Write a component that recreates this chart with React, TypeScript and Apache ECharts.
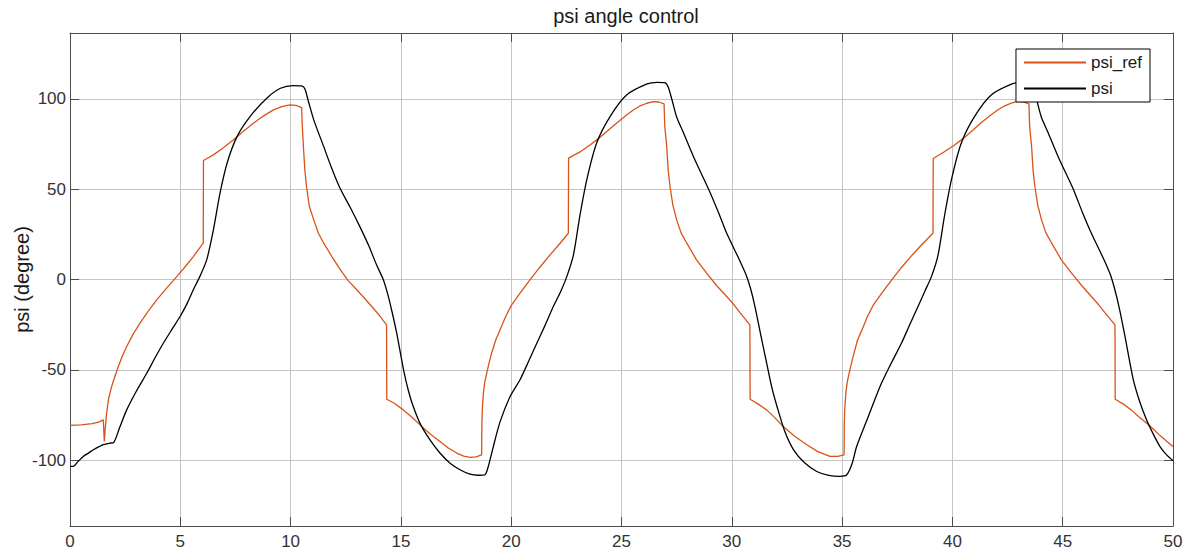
import React, { useEffect, useRef } from "react";
import * as echarts from "echarts";

const titleText = "psi angle control";
const yAxisName = "psi (degree)";
const seriesNames = ["psi_ref", "psi"];
const xMin = 0;
const xMax = 50;
const xStep = 5;
const yMin = -136.5;
const yMax = 136.5;

const psiRef: [number, number][] = [
  [0, -80.8], [0.5, -80.5], [1.0, -79.8], [1.3, -79], [1.51, -77.7], [1.555, -89.7],
  [1.6, -82], [1.66, -74], [1.75, -66], [1.89, -59.2], [2.0, -55], [2.19, -48.2],
  [2.37, -42.5], [2.57, -37.1], [2.85, -30.5], [3.17, -24.2], [3.55, -17.5], [3.93, -11.3],
  [4.4, -4.5], [4.84, 1.6], [5.2, 6.8], [5.59, 12.7], [6.04, 20.1],
  [6.05, 65.9], [6.5, 69], [6.95, 73], [7.4, 77.3], [7.85, 82], [8.31, 86.5], [8.76, 90.5],
  [9.22, 93.9], [9.6, 95.7], [9.97, 96.7], [10.25, 96.4], [10.5, 95.2],
  [10.53, 85], [10.58, 73.6], [10.65, 60], [10.72, 51.5], [10.85, 40.4], [11.05, 33],
  [11.26, 25.6], [11.5, 20.1], [11.87, 12.7], [12.26, 5.3], [12.6, -0.5], [13.0, -5.7],
  [13.38, -10.8], [13.75, -15.9], [14.05, -20.3], [14.35, -25.1],
  [14.36, -66.3], [14.7, -68.5], [15.11, -72.2], [15.5, -76.3], [15.87, -80.5], [16.3, -85.3],
  [16.77, -89.7], [17.15, -93.3], [17.53, -96.1], [17.85, -97.8], [18.13, -98.5],
  [18.4, -98.2], [18.66, -97.1],
  [18.67, -80], [18.69, -72], [18.74, -62.9], [18.8, -57], [18.89, -51.9], [19.0, -46],
  [19.11, -40.8], [19.3, -33.5], [19.49, -27.9], [19.75, -20.5], [20.02, -14], [20.4, -7.6],
  [20.85, -0.2], [21.3, 6.8], [21.76, 13.6], [22.2, 19.8], [22.59, 25.6],
  [22.6, 67.2], [23.1, 70.5], [23.57, 74.5], [23.95, 78], [24.33, 81.9], [24.8, 86.8],
  [25.23, 91.1], [25.55, 94], [25.84, 96.1], [26.15, 97.6], [26.44, 98.5], [26.7, 98.3],
  [26.93, 97.2],
  [26.96, 85], [27.05, 73.6], [27.12, 60], [27.2, 51.5], [27.33, 41], [27.5, 33],
  [27.7, 25.8], [27.96, 20.1], [28.4, 10.9], [28.86, 3.5], [29.3, -3.2], [29.77, -9.4],
  [30.1, -14], [30.39, -18.6], [30.82, -25.1],
  [30.83, -66.3], [31.2, -69], [31.58, -72.2], [31.95, -76.5], [32.33, -81.4], [32.85, -86.8],
  [33.4, -91.5], [33.9, -95.3], [34.45, -98], [34.8, -98], [35.09, -97.1],
  [35.1, -80], [35.12, -72], [35.17, -62.9], [35.23, -57], [35.32, -51.9], [35.43, -46],
  [35.54, -40.8], [35.7, -33.5], [35.9, -27.9], [36.15, -20.5], [36.42, -14], [36.8, -7.6],
  [37.25, -0.2], [37.7, 6.8], [38.18, 13.6], [38.65, 19.8], [39.12, 25.6],
  [39.13, 67], [39.6, 70.5], [40.1, 74.5], [40.48, 78], [40.86, 82], [41.3, 86.8],
  [41.76, 91.2], [42.07, 94], [42.37, 96.2], [42.67, 97.7], [42.97, 98.6], [43.22, 98.4],
  [43.47, 97.3],
  [43.5, 85], [43.59, 73.6], [43.66, 60], [43.74, 51.5], [43.87, 41], [44.04, 33],
  [44.24, 25.8], [44.5, 20.1], [44.94, 10.9], [45.4, 3.5], [45.85, -3.2], [46.3, -9.4],
  [46.63, -14], [46.93, -18.6], [47.37, -25.1],
  [47.38, -66.3], [47.75, -69], [48.1, -72.2], [48.45, -76], [48.8, -79.5], [49.1, -82.8],
  [49.4, -86.3], [49.7, -89.4], [50, -92.5],
];

const psi: [number, number][] = [
  [0, -103.5], [0.15, -103.5], [0.35, -101], [0.6, -98], [0.85, -96], [1.06, -94.3],
  [1.3, -92.7], [1.51, -91.5], [1.81, -90.6], [1.98, -90.3], [2.25, -82], [2.57, -72.2],
  [3.0, -62], [3.48, -51.9], [3.85, -43.5], [4.23, -35.3], [4.6, -28], [4.99, -20.5],
  [5.3, -13.5], [5.59, -5.7], [5.9, 2], [6.2, 11], [6.5, 27.5], [6.8, 47.8], [7.12, 64.4],
  [7.57, 79.1], [8.16, 90.2], [8.92, 100.4], [9.54, 105.9], [10.12, 107.4], [10.5, 107.2],
  [10.65, 105.5], [10.8, 99], [11.05, 88.4], [11.5, 73.6], [11.85, 62], [12.24, 50.5],
  [12.7, 40], [13.15, 29], [13.55, 18.5], [13.9, 8], [14.2, 0], [14.4, -8],
  [14.6, -18], [14.81, -29.7], [15.12, -50], [15.35, -62], [15.56, -70.3], [15.9, -80.5],
  [16.32, -88.8], [16.75, -95.8], [17.23, -101.7], [17.7, -105.5], [18.13, -107.8],
  [18.5, -108.4], [18.81, -108.1], [18.95, -104], [19.19, -92.5], [19.49, -79],
  [19.95, -64.8], [20.4, -55.5], [20.8, -45], [21.16, -35.3], [21.55, -25], [21.91, -15],
  [22.25, -6.5], [22.52, 1.6], [22.82, 13.5], [23.12, 35.8], [23.44, 56], [23.87, 75.5],
  [24.48, 90.2], [25.23, 102.2], [26.16, 108.3], [26.6, 109.2], [26.97, 109], [27.12, 106.5],
  [27.3, 99], [27.5, 90], [27.8, 81.5], [28.3, 67], [28.95, 50], [29.4, 37], [29.77, 25.6],
  [30.3, 12], [30.65, 2.5], [30.85, -5], [31.05, -15], [31.3, -30], [31.58, -46.3],
  [31.8, -59], [32.05, -70.3], [32.4, -84], [32.8, -94.3], [33.3, -101.5], [33.85, -106.3],
  [34.4, -108.5], [34.9, -109], [35.2, -108.3], [35.45, -102], [35.66, -92.5],
  [36.13, -77.7], [36.72, -59.2], [37.2, -47], [37.69, -35.3], [38.05, -25.5], [38.44, -15],
  [38.75, -6.5], [39.05, 1.6], [39.35, 13.5], [39.65, 35.8], [39.97, 56], [40.4, 75.5],
  [41.0, 90.2], [41.76, 102.2], [42.7, 108.3], [43.1, 109.1], [43.5, 109], [43.65, 106.5],
  [43.83, 99], [44.03, 90], [44.33, 81.5], [44.83, 67], [45.48, 50], [45.9, 37],
  [46.3, 25.6], [46.83, 12], [47.15, 3], [47.35, -5], [47.55, -15], [47.8, -30],
  [48.2, -55.5], [48.5, -68], [48.8, -77.7], [49.1, -85.5], [49.41, -92.5], [49.7, -97],
  [50, -100.4],
];

const FONT = "'Liberation Sans', Arial, Helvetica, sans-serif";
const AXIS_COLOR = "#4d4d4d";
const GRID_COLOR = "#c4c4c4";

export default function App() {
  const ref = useRef<HTMLDivElement>(null);
  useEffect(() => {
    if (!ref.current) return;
    const chart = echarts.init(ref.current, null, { renderer: "svg" });
    const axisLineStyle = { show: true, onZero: false, lineStyle: { color: AXIS_COLOR, width: 1 } };
    const tickStyle = { show: true, inside: true, length: 9, lineStyle: { color: AXIS_COLOR, width: 1 } };
    const labelStyle = { color: "#333333", fontSize: 17, fontFamily: FONT };
    chart.setOption({
      animation: false,
      backgroundColor: "#ffffff",
      title: {
        text: titleText,
        left: 621,
        textAlign: "center",
        top: 1,
        textStyle: { fontSize: 20, fontWeight: "normal", color: "#1a1a1a", fontFamily: FONT },
      },
      grid: {
        left: 70,
        right: 19,
        top: 33,
        bottom: 28,
        containLabel: false,
        outerBoundsMode: "none",
      },
      legend: {
        orient: "vertical",
        right: 42,
        top: 49,
        backgroundColor: "#ffffff",
        borderColor: "#000000",
        borderWidth: 1,
        borderRadius: 0,
        padding: [4, 8, 4, 8],
        itemGap: 7,
        itemWidth: 62,
        itemHeight: 2,
        icon: "rect",
        textStyle: { fontSize: 17, fontFamily: FONT, color: "#1a1a1a", lineHeight: 19 },
        data: seriesNames,
      },
      xAxis: [
        {
          type: "value",
          min: xMin,
          max: xMax,
          interval: xStep,
          position: "bottom",
          axisLine: axisLineStyle,
          axisTick: tickStyle,
          axisLabel: { ...labelStyle, margin: 7 },
          splitLine: { show: true, lineStyle: { color: GRID_COLOR, width: 1 } },
        },
        {
          type: "value",
          min: xMin,
          max: xMax,
          interval: xStep,
          position: "top",
          axisLine: axisLineStyle,
          axisTick: tickStyle,
          axisLabel: { show: false },
          splitLine: { show: false },
        },
      ],
      yAxis: [
        {
          type: "value",
          min: yMin,
          max: yMax,
          minInterval: 50,
          maxInterval: 50,
          splitNumber: 5,
          position: "left",
          name: yAxisName,
          nameLocation: "middle",
          nameGap: 38,
          nameMoveOverlap: false,
          nameTextStyle: { fontSize: 20, fontFamily: FONT, color: "#1a1a1a" },
          axisLine: axisLineStyle,
          axisTick: tickStyle,
          axisLabel: { ...labelStyle, margin: 4, showMinLabel: false, showMaxLabel: false },
          splitLine: { show: true, lineStyle: { color: GRID_COLOR, width: 1 } },
        },
        {
          type: "value",
          min: yMin,
          max: yMax,
          minInterval: 50,
          maxInterval: 50,
          splitNumber: 5,
          position: "right",
          axisLine: axisLineStyle,
          axisTick: tickStyle,
          axisLabel: { show: false },
          splitLine: { show: false },
        },
      ],
      series: [
        {
          name: seriesNames[0],
          type: "line",
          data: psiRef,
          showSymbol: false,
          symbol: "none",
          color: "#D95319",
          lineStyle: { color: "#D95319", width: 1.3 },
          xAxisIndex: 0,
          yAxisIndex: 0,
        },
        {
          name: seriesNames[1],
          type: "line",
          data: psi,
          showSymbol: false,
          symbol: "none",
          smooth: 0.25,
          color: "#000000",
          lineStyle: { color: "#000000", width: 1.3 },
          xAxisIndex: 0,
          yAxisIndex: 0,
        },
      ],
    });
    return () => chart.dispose();
  }, []);
  return (
    <div
      ref={ref}
      style={{ position: "fixed", left: 0, top: 0, width: 1192, height: 554, background: "#fff" }}
    />
  );
}
